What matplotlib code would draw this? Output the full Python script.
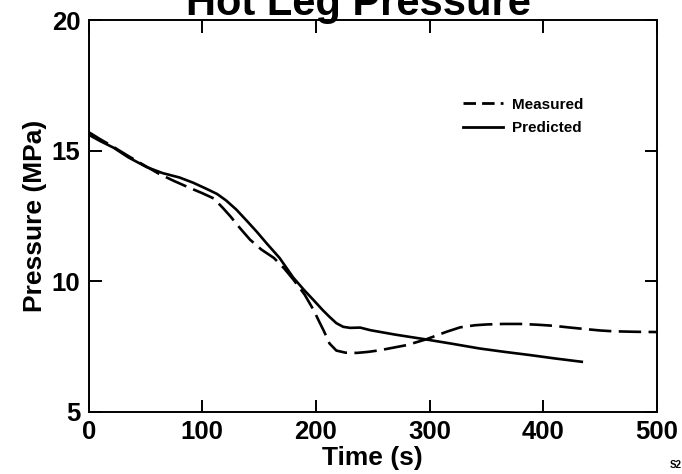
import matplotlib
matplotlib.use("Agg")
import matplotlib.pyplot as plt
from matplotlib.lines import Line2D

plt.rcParams["font.family"] = ["Liberation Sans", "DejaVu Sans"]
plt.rcParams["font.weight"] = "bold"

# hot leg pressure, time in s, pressure in MPa
pred_time = [0, 10, 22, 35, 51, 65, 80, 92, 104, 113, 121, 130, 139, 148, 157,
             168, 180, 190, 198, 206, 212, 218, 224, 230, 239, 248, 270, 295,
             320, 344, 366, 388, 410, 434]
pred_p = [15.62, 15.38, 15.12, 14.75, 14.38, 14.15, 13.98, 13.78, 13.54, 13.35,
          13.10, 12.75, 12.33, 11.90, 11.44, 10.90, 10.15, 9.65, 9.28, 8.90,
          8.64, 8.40, 8.26, 8.22, 8.23, 8.13, 7.96, 7.79, 7.61, 7.43, 7.30,
          7.18, 7.05, 6.92]

meas_time = [0, 10, 20, 35, 50, 62, 75, 88, 100, 110, 118, 125, 133, 142, 152,
             163, 172, 180, 190, 198, 203, 207, 212, 218, 226, 236, 246, 256,
             268, 280, 297, 315, 327, 340, 350, 365, 380, 395, 409, 424, 438,
             450, 461, 480, 500]
meas_p = [15.72, 15.45, 15.2, 14.8, 14.42, 14.12, 13.85, 13.6, 13.38, 13.18,
          12.82, 12.48, 12.05, 11.6, 11.22, 10.9, 10.5, 10.08, 9.5, 8.9, 8.45,
          8.1, 7.62, 7.35, 7.27, 7.26, 7.3, 7.36, 7.46, 7.56, 7.78, 8.07, 8.24,
          8.32, 8.35, 8.37, 8.37, 8.34, 8.30, 8.23, 8.17, 8.12, 8.09, 8.07, 8.06]

x_ticks = [0, 100, 200, 300, 400, 500]
y_ticks = [5, 10, 15, 20]

fig = plt.figure(figsize=(6.82, 4.74), dpi=100)
ax = fig.add_axes([0.130, 0.131, 0.833, 0.826])

ax.plot(meas_time, meas_p, color="black", lw=1.9, ls=(0, (8.5, 2.8)))
ax.plot(pred_time, pred_p, color="black", lw=1.9)

ax.set_xlim(0, 500)
ax.set_ylim(5, 20)
ax.set_xticks(x_ticks)
ax.set_yticks(y_ticks)
ax.tick_params(direction="in", length=9, width=1.4, labelsize=18.5,
               top=True, right=True, pad=6)
for s in ax.spines.values():
    s.set_linewidth(1.4)

ax.set_xlabel("Time (s)", fontsize=19, fontweight="bold", labelpad=1)
ax.set_ylabel("Pressure (MPa)", fontsize=19, fontweight="bold", labelpad=3)

# legend with short dashes
handles = [Line2D([], [], color="black", lw=2.0, ls=(0, (4.5, 2.2))),
           Line2D([], [], color="black", lw=2.0)]
ax.legend(handles, ["Measured", "Predicted"], loc="upper left",
          bbox_to_anchor=(0.659, 0.803), frameon=False, borderpad=0,
          borderaxespad=0, handlelength=2.6, handletextpad=0.6,
          labelspacing=0.65, prop={"size": 11, "weight": "bold"})

# title runs off the top edge of the sheet
fig.text(0.525, 1 - 14.5 / 474, "Hot Leg Pressure", fontsize=30,
         fontweight="bold", ha="center", va="baseline")
fig.text(0.982, 0.019, "S2", fontsize=7, fontweight="bold", ha="left",
         va="center")

fig.savefig("out.png", dpi=100)
